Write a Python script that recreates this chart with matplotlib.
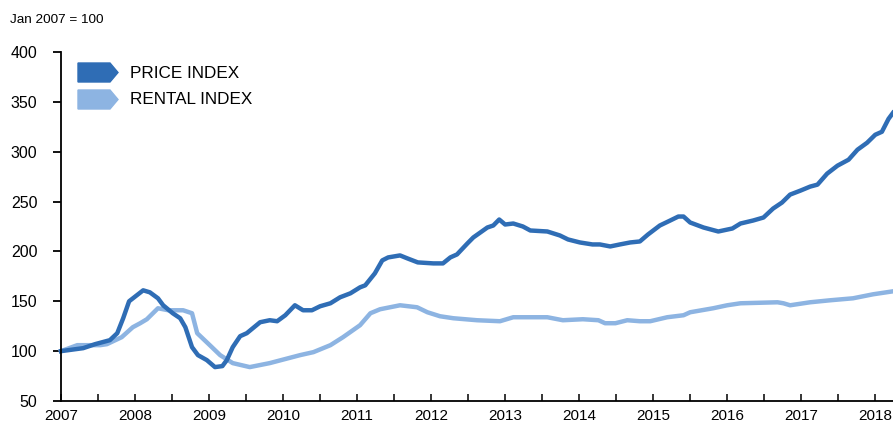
import numpy as np
import matplotlib
matplotlib.use("Agg")
import matplotlib.pyplot as plt
import matplotlib.patches as mpatches

plt.rcParams['font.family'] = ['Liberation Sans', 'DejaVu Sans']

# Données (temps en années décimales, Jan 2007 = 100)
price_t = [2007.0, 2007.30, 2007.46, 2007.66, 2007.76, 2007.84, 2007.92, 2008.11, 2008.20,
           2008.31, 2008.38, 2008.51, 2008.61, 2008.68, 2008.77, 2008.85, 2008.97, 2009.08,
           2009.18, 2009.24, 2009.32, 2009.42, 2009.51, 2009.69, 2009.82, 2009.92, 2010.03,
           2010.16, 2010.27, 2010.39, 2010.50, 2010.64, 2010.77, 2010.91, 2011.04, 2011.11,
           2011.24, 2011.34, 2011.42, 2011.58, 2011.68, 2011.82, 2012.03, 2012.16, 2012.26,
           2012.35, 2012.49, 2012.57, 2012.76, 2012.84, 2012.92, 2013.0, 2013.11, 2013.24,
           2013.34, 2013.57, 2013.74, 2013.85, 2014.01, 2014.18, 2014.28, 2014.42, 2014.55,
           2014.69, 2014.82, 2014.93, 2015.09, 2015.23, 2015.34, 2015.41, 2015.50, 2015.68,
           2015.88, 2016.07, 2016.18, 2016.35, 2016.49, 2016.62, 2016.74, 2016.85, 2016.99,
           2017.12, 2017.22, 2017.35, 2017.49, 2017.64, 2017.76, 2017.89, 2018.0, 2018.09,
           2018.18, 2018.24]
price_v = [100, 103, 107, 111, 118, 133, 150, 161, 159,
           153, 146, 138, 133, 124, 104, 96, 91, 84,
           85, 91, 104, 115, 118, 129, 131, 130, 136,
           146, 141, 141, 145, 148, 154, 158, 164, 166,
           178, 191, 194, 196, 193, 189, 188, 188, 194,
           197, 208, 214, 224, 226, 232, 227, 228, 225,
           221, 220, 216, 212, 209, 207, 207, 205, 207,
           209, 210, 217, 226, 231, 235, 235, 229, 224,
           220, 223, 228, 231, 234, 243, 249, 257, 261,
           265, 267, 278, 286, 292, 302, 309, 317, 320,
           333, 339]

rent_t = [2007.0, 2007.22, 2007.35, 2007.53, 2007.62, 2007.82, 2007.97, 2008.07, 2008.16,
          2008.31, 2008.45, 2008.65, 2008.77, 2008.84, 2009.01, 2009.15, 2009.32, 2009.55,
          2009.82, 2010.23, 2010.41, 2010.64, 2010.81, 2011.04, 2011.18, 2011.31, 2011.58,
          2011.81, 2011.95, 2012.12, 2012.30, 2012.62, 2012.93, 2013.11, 2013.30, 2013.57,
          2013.78, 2014.05, 2014.26, 2014.35, 2014.49, 2014.65, 2014.82, 2014.96, 2015.19,
          2015.41, 2015.50, 2015.81, 2016.0, 2016.18, 2016.68, 2016.76, 2016.85, 2017.12,
          2017.39, 2017.70, 2017.97, 2018.24]
rent_v = [100, 106, 106, 106, 107, 114, 124, 128, 132,
          143, 141, 141, 138, 118, 106, 96, 88, 84,
          88, 96, 99, 106, 114, 126, 138, 142, 146,
          144, 139, 135, 133, 131, 130, 134, 134, 134,
          131, 132, 131, 128, 128, 131, 130, 130, 134,
          136, 139, 143, 146, 148, 149, 148, 146, 149,
          151, 153, 157, 160]

years = list(range(2007, 2019))
y_ticks = [50, 100, 150, 200, 250, 300, 350, 400]

col_price = '#2F6DB5'
col_rent = '#8DB4E2'

fig = plt.figure(figsize=(8.93, 4.25), dpi=100)
ax = fig.add_axes([61/893, 1 - 401/425, 1 - 61/893, 349/425])

ax.plot(rent_t, rent_v, color=col_rent, lw=3.2, solid_joinstyle='round', clip_on=False)
ax.plot(price_t, price_v, color=col_price, lw=3.2, solid_joinstyle='round', clip_on=False)

ax.set_xlim(2007, 2018.24)
ax.set_ylim(50, 400)
ax.set_yticks(y_ticks)
ax.set_xticks(years)
ax.set_xticks([y + 0.5 for y in years[:-1]], minor=True)

for s in ['top', 'right']:
    ax.spines[s].set_visible(False)
for s in ['left', 'bottom']:
    ax.spines[s].set_linewidth(1.3)

ax.tick_params(axis='y', direction='out', length=6, width=1.3, pad=11, labelsize=11.5)
ax.tick_params(axis='x', which='both', direction='in', length=5, width=1.1, pad=6, labelsize=11)

fig.text(10/893, 1 - 20/425, 'Jan 2007 = 100', fontsize=9.7, va='center', ha='left')

# Légende avec des flèches
def fleche(x0, y0, couleur):
    w, h, p = 40/893, 19/425, 8/893
    pts = [(x0, y0), (x0 + w - p, y0), (x0 + w, y0 + h/2), (x0 + w - p, y0 + h), (x0, y0 + h)]
    fig.patches.append(mpatches.Polygon(pts, closed=True, color=couleur, transform=fig.transFigure))

fleche(78/893, 1 - 82/425, col_price)
fleche(78/893, 1 - 109/425, col_rent)
fig.text(130/893, 1 - 73/425, 'PRICE INDEX', fontsize=12.3, va='center', ha='left')
fig.text(130/893, 1 - 100/425, 'RENTAL INDEX', fontsize=12.3, va='center', ha='left')

fig.savefig('out.png', dpi=100)
